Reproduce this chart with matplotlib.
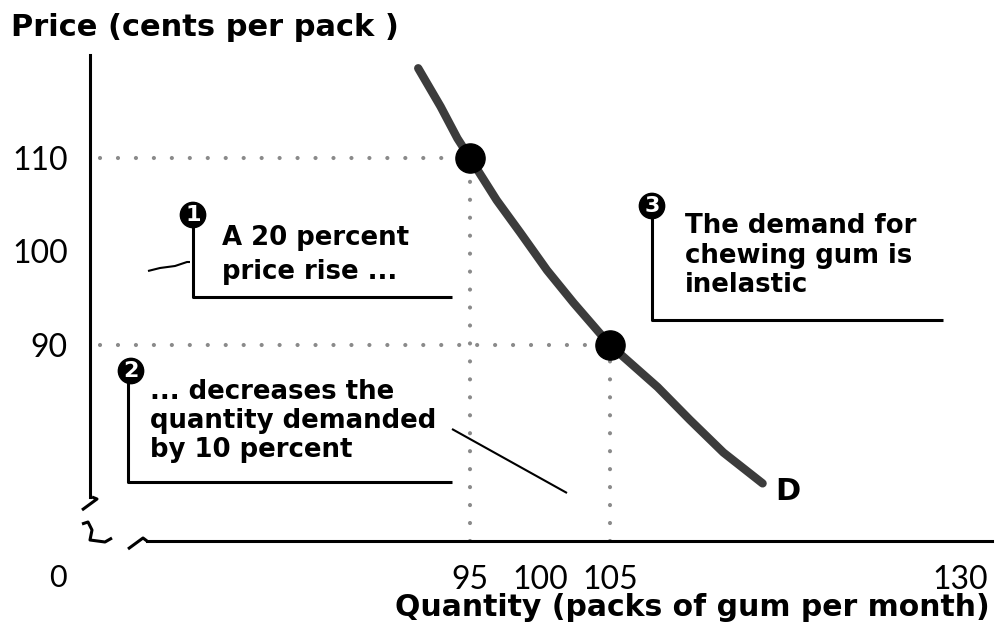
"""Demand for chewing gum - inelastic demand figure."""
import matplotlib
matplotlib.use("Agg")
import matplotlib.pyplot as plt
import matplotlib.transforms as mtransforms
from matplotlib.lines import Line2D

# data
quantity = [91.3, 92.9, 94.1, 95, 96.9, 98.6, 100.5, 102.4, 105,
            108.4, 110.7, 113.1, 115.9]
price = [119.6, 115.5, 112.1, 110, 105.5, 102.0, 98.0, 94.5, 90,
         85.5, 82.0, 78.5, 75.2]
points_q = [95, 105]
points_p = [110, 90]
xtick_vals = [95, 100, 105, 130]
xtick_marks = [100, 130]
ytick_vals = [90, 100, 110]
ytick_marks = [100]

W, H = 999, 631
fig = plt.figure(figsize=(W / 100, H / 100), dpi=100)
plt.rcParams['font.family'] = ['Lato', 'DejaVu Sans']
BOLD = 'DejaVu Sans'


# pixel -> data mapping used to place the axes box
def q_of(px):
    return 100 + (px - 540) / 14.0


def p_of(py):
    return 100 + (251.5 - py) / 9.35


x0, x1, y0, y1 = 90, 992, 541, 55
ax = fig.add_axes([x0 / W, 1 - y0 / H, (x1 - x0) / W, (y0 - y1) / H])
ax.set_xlim(q_of(x0), q_of(x1))
ax.set_ylim(p_of(y0), p_of(y1))
ax.patch.set_alpha(0)
for s in ['top', 'right']:
    ax.spines[s].set_visible(False)
ax.spines['left'].set_linewidth(2.2)
ax.spines['bottom'].set_linewidth(2.2)
ax.spines['left'].set_bounds(p_of(497), p_of(y1))
ax.spines['bottom'].set_bounds(q_of(147), q_of(x1))

ax.set_xticks(xtick_vals)
ax.set_xticklabels([str(v) for v in xtick_vals])
ax.set_xticks(xtick_marks, minor=True)
ax.set_yticks(ytick_vals)
ax.set_yticklabels([str(v) for v in ytick_vals])
ax.set_yticks(ytick_marks, minor=True)
ax.tick_params(which='major', length=0, labelsize=23)
ax.tick_params(axis='x', which='major', pad=17)
ax.tick_params(axis='y', which='major', pad=16)
ax.tick_params(which='minor', length=19, width=2.2, direction='inout')

# dotted guides
dot = dict(color='#8a8a8a', lw=3, ls=(0, (0.01, 4.3)), dash_capstyle='round')
ax.plot([q_of(100), points_q[0]], [points_p[0], points_p[0]], **dot)
ax.plot([q_of(100), points_q[1]], [points_p[1], points_p[1]], **dot)
ax.plot([points_q[0], points_q[0]], [p_of(y0), points_p[0]], **dot)
ax.plot([points_q[1], points_q[1]], [p_of(y0), points_p[1]], **dot)

# demand curve
ax.plot(quantity, price, color='#3c3c3c', lw=6, solid_capstyle='round',
        solid_joinstyle='round', zorder=3)
ax.plot(points_q, points_p, 'o', color='black', ms=21, zorder=4)

# pixel transform for annotations
pix = mtransforms.Affine2D().scale(1 / W, -1 / H).translate(0, 1) + fig.transFigure


def line(xs, ys, lw=2.2):
    fig.add_artist(Line2D(xs, ys, transform=pix, color='black', lw=lw,
                          solid_capstyle='butt'))


def badge(x, y, n):
    fig.text(x, y, n, transform=pix, ha='center', va='center', color='white',
             fontsize=16, fontweight='bold', family=BOLD,
             bbox=dict(boxstyle='circle,pad=0.12', fc='black', ec='black'))


txt = dict(transform=pix, fontsize=18.7, fontweight='bold', family=BOLD,
           va='center', ha='left')

# callout 1
line([193, 193, 452], [222, 297, 297])
badge(193, 215, '1')
fig.text(222, 238, 'A 20 percent', **txt)
fig.text(222, 272, 'price rise ...', **txt)
line([148, 160, 175, 187, 190], [271, 268, 266, 262, 262], lw=1.5)

# callout 2
line([128, 128, 452], [378, 482, 482])
badge(131, 371, '2')
fig.text(150, 392, '... decreases the', **txt)
fig.text(150, 421, 'quantity demanded', **txt)
fig.text(150, 450, 'by 10 percent', **txt)
line([452, 567], [429, 493], lw=1.5)

# callout 3
line([652, 652, 943], [212, 320, 320])
badge(652, 206, '3')
fig.text(685, 226, 'The demand for', **txt)
fig.text(685, 256, 'chewing gum is', **txt)
fig.text(685, 285, 'inelastic', **txt)

# axis breaks
line([82, 97, 92], [510, 499, 497], lw=2.2)
line([82, 88, 92, 90, 105, 112], [524, 522, 530, 540, 542, 538], lw=2.2)
line([128, 143, 147], [549, 538, 541], lw=2.2)

fig.text(788, 491, 'D', transform=pix, fontsize=22, fontweight='bold',
         family=BOLD, ha='center', va='center')
fig.text(58, 578, '0', transform=pix, fontsize=22, ha='center', va='center')
fig.text(11, 28, 'Price (cents per pack )', transform=pix, fontsize=22,
         fontweight='bold', family=BOLD, ha='left', va='center')
fig.text(990, 607, 'Quantity (packs of gum per month)', transform=pix,
         fontsize=21.5, fontweight='bold', family=BOLD, ha='right',
         va='center')

fig.savefig('out.png', dpi=100)
